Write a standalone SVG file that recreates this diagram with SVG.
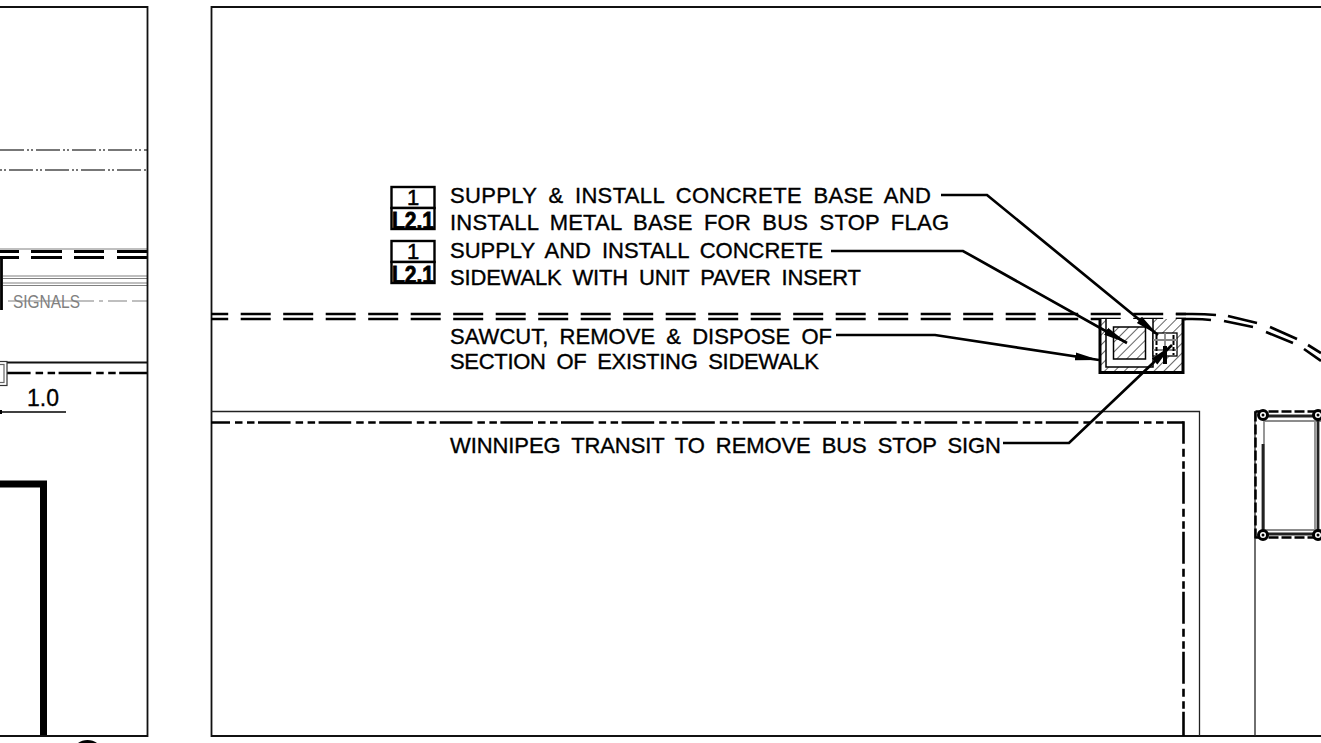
<svg xmlns="http://www.w3.org/2000/svg" width="1321" height="743" viewBox="0 0 1321 743">
<style>
.f{fill:none;stroke:#111;stroke-width:1.8}
.n{fill:none;stroke:#222;stroke-width:1.3}
.b{fill:none;stroke:#000;stroke-width:2.8}
.w{fill:none;stroke:#000;stroke-width:2.7;stroke-dasharray:30 12.5;stroke-dashoffset:12.8}
.dd{fill:none;stroke:#000;stroke-width:2.6;stroke-dasharray:32.6 5 7.5 4.5 7.5 3.5}
.g{fill:none;stroke:#808080;stroke-width:1.2}
.gd{fill:none;stroke:#777;stroke-width:2;stroke-dasharray:24 3 2 2 2 3}
.l{fill:none;stroke:#000;stroke-width:2.7}
.t{font-family:"Liberation Sans",Arial,sans-serif;font-size:22px;fill:#000;stroke:#000;stroke-width:.35;word-spacing:5px}
.tag{font-family:"Liberation Sans",Arial,sans-serif;font-size:22px;fill:#000;stroke:#000;stroke-width:.5;text-anchor:middle}
.tagb{font-family:"Liberation Sans",Arial,sans-serif;font-size:23px;font-weight:bold;fill:#000;stroke:#000;stroke-width:.8;text-anchor:middle}
</style>
<defs>
<pattern id="hatch" width="7" height="7" patternUnits="userSpaceOnUse" patternTransform="rotate(45)">
<rect width="7" height="7" fill="#fff"/>
<line x1="0" y1="0" x2="0" y2="7" stroke="#333" stroke-width="1.500"/>
</pattern>
<marker id="arr" markerUnits="userSpaceOnUse" markerWidth="26" markerHeight="10" refX="24" refY="5" orient="auto">
<path d="M0 1L24 5L0 9Z" fill="#000"/>
</marker>
</defs>
<rect width="1321" height="743" fill="#fff"/>

<g id="left-panel">
<path class="gd" d="M0 150H147"/>
<path class="gd" d="M0 170H147" stroke-dashoffset="-9"/>
<path class="g" d="M0 249H147"/>
<path class="b" d="M0 251.500H19M31 251.500H62M74 251.500H104M117 251.500H147"/>
<path class="b" d="M0 257.500H19M31 257.500H62M74 257.500H104M117 257.500H147"/>
<path class="b" d="M1.500 257.500V310M1.500 257.500H15" stroke-width="3"/>
<path class="g" d="M3 276H147M3 278.500H147M3 283H147M3 285.500H147"/>
<path class="g" stroke-width="1.600" d="M8 301H94M99 301H103M108 301H127M132 301H147"/>
<text x="13" y="308" font-family="'Liberation Sans',Arial,sans-serif" font-size="17.500" fill="#808080" textLength="67" lengthAdjust="spacingAndGlyphs">SIGNALS</text>
<path class="f" d="M0 362.500H147"/>
<path class="dd" stroke-dashoffset="9" d="M7 373H147"/>
<rect x="-2" y="361.500" width="9" height="24" fill="#fff" stroke="#333" stroke-width="1.200"/>
<rect x="-2" y="364.500" width="6" height="18" fill="none" stroke="#666" stroke-width="1.200"/>
<text x="27" y="406" font-family="'Liberation Sans',Arial,sans-serif" font-size="23" fill="#000" stroke="#000" stroke-width=".3">1.0</text>
<path d="M0 412H66" stroke="#000" stroke-width="1.500" fill="none"/>
<rect x="0" y="410" width="2" height="4" fill="#000"/>
<path d="M0 484H43.500V736" fill="none" stroke="#000" stroke-width="7"/>
<path class="f" d="M0 736H147.500V7H0"/>
<path d="M78 743C83 739 92 739 97 743Z" fill="#000"/>
</g>

<g id="right-panel">
<path class="f" d="M1321 7H211.500V736H1321"/>
<path class="n" d="M211 411.500H1199.500V736"/>
<path class="dd" stroke-dashoffset="13.600" d="M211 422.500H1183.500"/>
<path class="dd" stroke-dashoffset="9.500" style="stroke-dasharray:32 5 8 4.500 7.500 3" d="M1183.500 421.200V736"/>
<path class="n" d="M1255 411V736"/>
</g>

<g id="sidewalk">
<path class="w" d="M211 314H1186"/>
<path class="w" d="M211 319H1186"/>
<path class="l" d="M1176 314H1192Q1205 314 1216 315M1176 319H1192Q1203 319.200 1211 320M1224 321L1253 327M1228 316L1257 323M1266 332L1293 343M1270 327L1297 339M1304 349L1321 361M1308 345L1321 353"/>
</g>

<g id="sawcut-area">
<path d="M1100 319H1183V372H1100Z" fill="url(#hatch)"/>
<path d="M1106 319H1153V367H1106Z" fill="#fff"/>
<path d="M1100 319V372.500H1183V319" fill="none" stroke="#000" stroke-width="3"/>
<path d="M1106 319V367H1153V319" fill="none" stroke="#000" stroke-width="1.500"/>
<rect x="1113.500" y="327" width="32" height="32" fill="url(#hatch)" stroke="#000" stroke-width="1.500"/>
</g>

<g id="bus-stop-flag">
<rect x="1153" y="333" width="24" height="23" fill="#fff" stroke="#000" stroke-width="1.300"/>
<path d="M1153 340H1177M1153 350H1177M1165 333V356" stroke="#888" stroke-width="1.800" fill="none"/>
<path d="M1156.500 335V355M1173.500 335V355" stroke="#000" stroke-width="2" stroke-dasharray="4 2" fill="none"/>
<path d="M1165 346V364" stroke="#000" stroke-width="4" fill="none"/>
</g>

<g id="connectors">
<path class="l" marker-end="url(#arr)" d="M941 195H987L1158 335"/>
<path class="l" marker-end="url(#arr)" d="M831 251H963L1127 343"/>
<path class="l" marker-end="url(#arr)" d="M836 335H935L1099 360"/>
<path class="l" marker-end="url(#arr)" d="M1003 443H1069L1172 345"/>
</g>

<g id="tag-1">
<rect x="391.500" y="187" width="43" height="21" fill="#fff" stroke="#000" stroke-width="2.400"/>
<rect x="391.500" y="208" width="43" height="21" fill="#fff" stroke="#000" stroke-width="2.400"/>
<text class="tag" x="413" y="205">1</text>
<text class="tagb" x="413" y="229" textLength="42" lengthAdjust="spacingAndGlyphs">L2.1</text>
</g>
<g id="tag-2">
<rect x="391.500" y="241" width="43" height="21" fill="#fff" stroke="#000" stroke-width="2.400"/>
<rect x="391.500" y="262" width="43" height="21" fill="#fff" stroke="#000" stroke-width="2.400"/>
<text class="tag" x="413" y="259">1</text>
<text class="tagb" x="413" y="283" textLength="42" lengthAdjust="spacingAndGlyphs">L2.1</text>
</g>

<g id="labels">
<text class="t" x="450" y="203" textLength="481">SUPPLY &amp; INSTALL CONCRETE BASE AND</text>
<text class="t" x="450" y="230" textLength="499">INSTALL METAL BASE FOR BUS STOP FLAG</text>
<text class="t" x="450" y="258" textLength="373">SUPPLY AND INSTALL CONCRETE</text>
<text class="t" x="450" y="285" textLength="411">SIDEWALK WITH UNIT PAVER INSERT</text>
<text class="t" x="450" y="344" textLength="382">SAWCUT, REMOVE &amp; DISPOSE OF</text>
<text class="t" x="450" y="369" textLength="369">SECTION OF EXISTING SIDEWALK</text>
<text class="t" x="450" y="453" textLength="551">WINNIPEG TRANSIT TO REMOVE BUS STOP SIGN</text>
</g>

<g id="shelter">
<path d="M1255.500 411.500H1321M1255.500 411.500V540M1255.500 537.500H1321" fill="none" stroke="#000" stroke-width="2.500" stroke-dasharray="10 3"/>
<path d="M1264 421H1321M1264 530H1321M1264 421V530M1315 421V530" fill="none" stroke="#8c8c8c" stroke-width="1.800"/>
<path d="M1263 416H1321M1263 534H1321M1263 444V534M1318 416V534" fill="none" stroke="#222" stroke-width="2.800"/>
<g fill="#fff" stroke="#000" stroke-width="3">
<circle cx="1263" cy="415" r="4.500"/><circle cx="1318" cy="415" r="4.500"/><circle cx="1263" cy="535" r="4.500"/><circle cx="1318" cy="535" r="4.500"/>
</g>
<g fill="#000">
<circle cx="1263" cy="415" r="1.500"/><circle cx="1318" cy="415" r="1.500"/><circle cx="1263" cy="535" r="1.500"/><circle cx="1318" cy="535" r="1.500"/>
</g>
</g>
</svg>
